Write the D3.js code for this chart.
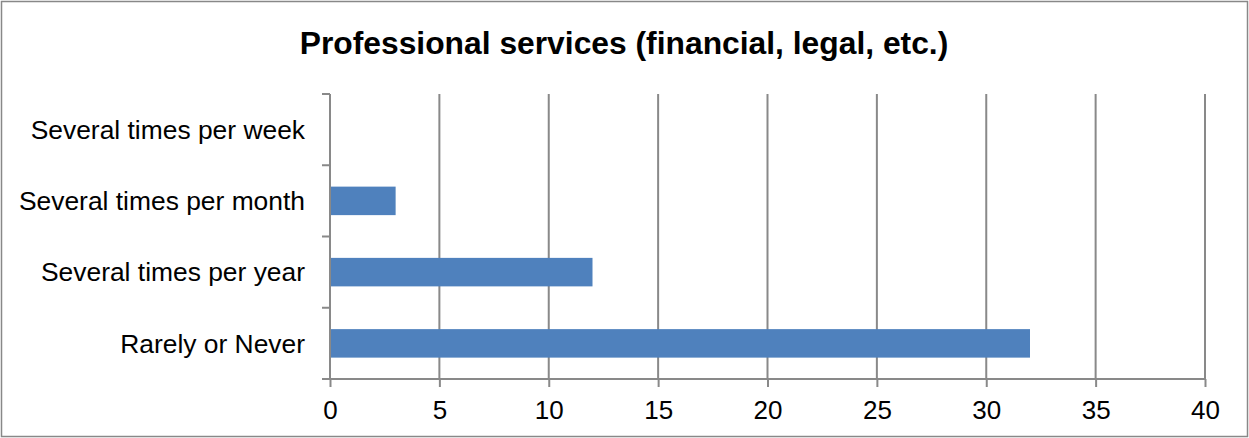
<!DOCTYPE html>
<html>
<head>
<meta charset="utf-8">
<script src="https://cdn.jsdelivr.net/npm/d3@7"></script>
<style>
  html, body { margin: 0; padding: 0; background: #fff; }
  svg { display: block; }
</style>
</head>
<body>
<svg id="chart" width="1249" height="438"></svg>
<script>
// Survey responses: how often respondents use professional services
const titleText = "Professional services (financial, legal, etc.)";
const categories = [
  "Several times per week",
  "Several times per month",
  "Several times per year",
  "Rarely or Never"
];
const counts = [0, 3, 12, 32];
const xTicks = [0, 5, 10, 15, 20, 25, 30, 35, 40];

const W = 1249, H = 438;
const plot = { left: 330, right: 1205, top: 94, bottom: 379 };
const axisColor = "#898989";
const barColor = "#4f81bd";
const font = "'Liberation Sans', Arial, sans-serif";

const svg = d3.select("#chart");

// outer frame
svg.append("rect")
  .attr("x", 1.5).attr("y", 1.5)
  .attr("width", W - 3).attr("height", H - 3)
  .attr("fill", "#fff")
  .attr("stroke", "#888").attr("stroke-width", 1.5);

svg.append("text")
  .attr("x", 624).attr("y", 54)
  .attr("text-anchor", "middle")
  .attr("font-family", font)
  .attr("font-weight", "bold")
  .attr("font-size", 31.8)
  .attr("fill", "#000")
  .text(titleText);

const x = d3.scaleLinear().domain([0, 40]).range([plot.left, plot.right]);
const y = d3.scaleBand().domain(categories)
  .range([plot.top, plot.bottom])
  .paddingInner(0.6).paddingOuter(0.3);

// vertical gridlines
svg.append("g")
  .selectAll("line")
  .data(xTicks.filter(d => d > 0))
  .join("line")
  .attr("x1", d => x(d)).attr("x2", d => x(d))
  .attr("y1", plot.top).attr("y2", plot.bottom)
  .attr("stroke", axisColor).attr("stroke-width", 2);

// bars
svg.append("g")
  .selectAll("rect")
  .data(categories.map((c, i) => ({ c, v: counts[i] })).filter(d => d.v > 0))
  .join("rect")
  .attr("x", x(0))
  .attr("y", d => y(d.c))
  .attr("width", d => x(d.v) - x(0))
  .attr("height", y.bandwidth())
  .attr("fill", barColor);

// x axis
const xAxis = svg.append("g")
  .attr("transform", `translate(0,${plot.bottom})`)
  .call(d3.axisBottom(x).tickValues(xTicks).tickSize(8).tickPadding(14).tickSizeOuter(0));
xAxis.select(".domain").remove();
xAxis.append("line")
  .attr("x1", plot.left - 8).attr("x2", plot.right)
  .attr("stroke", axisColor).attr("stroke-width", 2);
xAxis.selectAll(".tick line").attr("stroke", axisColor).attr("stroke-width", 2);
xAxis.selectAll(".tick text")
  .attr("font-family", font).attr("font-size", 26).attr("fill", "#000");

// y axis: ticks at band boundaries
const bounds = d3.range(categories.length + 1)
  .map(i => plot.top + i * (plot.bottom - plot.top) / categories.length);
const yAxis = svg.append("g");
yAxis.append("line")
  .attr("x1", plot.left).attr("x2", plot.left)
  .attr("y1", plot.top).attr("y2", plot.bottom)
  .attr("stroke", axisColor).attr("stroke-width", 2);
yAxis.selectAll("line.tk")
  .data(bounds)
  .join("line").attr("class", "tk")
  .attr("x1", plot.left - 8).attr("x2", plot.left)
  .attr("y1", d => d).attr("y2", d => d)
  .attr("stroke", axisColor).attr("stroke-width", 2);
yAxis.selectAll("text")
  .data(categories)
  .join("text")
  .attr("x", 305)
  .attr("y", d => y(d) + y.bandwidth() / 2)
  .attr("dy", "0.35em")
  .attr("text-anchor", "end")
  .attr("font-family", font).attr("font-size", 26.4).attr("fill", "#000")
  .text(d => d);
</script>
</body>
</html>
